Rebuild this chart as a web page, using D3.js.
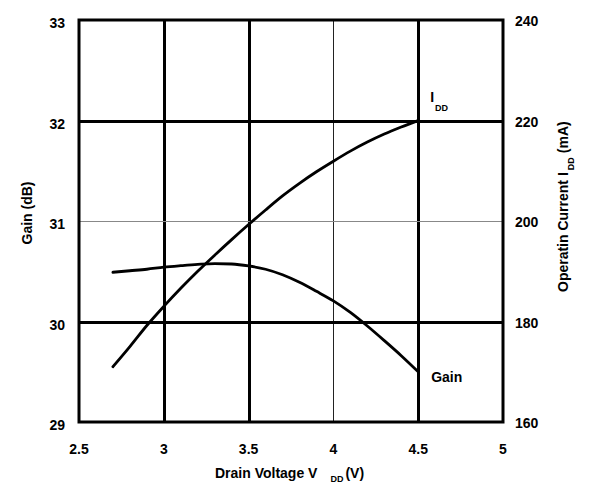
<!DOCTYPE html>
<html>
<head>
<meta charset="utf-8">
<script src="https://cdn.jsdelivr.net/npm/d3@7"></script>
<style>
  body { margin: 0; background: #fff; }
  svg { display: block; font-family: "Liberation Sans", Arial, sans-serif; font-weight: bold; }
</style>
</head>
<body>
<svg width="591" height="486"></svg>
<script>
// data
var voltage   = [2.7, 2.8, 2.9, 3.0, 3.1, 3.2, 3.3, 3.4, 3.5, 3.6, 3.7, 3.8, 3.9, 4.0, 4.1, 4.2, 4.3, 4.4, 4.5];
var gainDb    = [30.49, 30.505, 30.52, 30.54, 30.555, 30.568, 30.576, 30.572, 30.553, 30.52, 30.465, 30.39, 30.30, 30.205, 30.09, 29.955, 29.81, 29.66, 29.50];
var currentMa = [171, 175, 179.2, 183, 186.6, 190, 193.2, 196.3, 199.3, 202.2, 205, 207.5, 209.8, 211.9, 213.9, 215.7, 217.3, 218.7, 220];

var xTicks = [2.5, 3, 3.5, 4, 4.5, 5];
var gainTicks = [29, 30, 31, 32, 33];
var currentTicks = [160, 180, 200, 220, 240];
var thinX = [4];     // grid lines drawn thin
var thinY = [31];

var svg = d3.select("svg"),
    margin = {top: 20, right: 88, bottom: 64, left: 79},
    width = +svg.attr("width") - margin.left - margin.right,
    height = +svg.attr("height") - margin.top - margin.bottom;

var x = d3.scaleLinear().domain([2.5, 5]).range([0, width]),
    yL = d3.scaleLinear().domain([29, 33]).range([height, 0]),
    yR = d3.scaleLinear().domain([160, 240]).range([height, 0]);

var g = svg.append("g")
    .attr("transform", "translate(" + margin.left + "," + margin.top + ")");

// vertical grid
g.selectAll(".vgrid")
    .data(xTicks.slice(1, -1))
  .enter().append("line")
    .attr("x1", d => Math.round(x(d)) + 0.5)
    .attr("x2", d => Math.round(x(d)) + 0.5)
    .attr("y1", 0)
    .attr("y2", height)
    .attr("stroke", d => thinX.includes(d) ? "#222" : "#000")
    .attr("stroke-width", d => thinX.includes(d) ? 1 : 3);

// horizontal grid
g.selectAll(".hgrid")
    .data(gainTicks.slice(1, -1))
  .enter().append("line")
    .attr("x1", 0)
    .attr("x2", width)
    .attr("y1", d => Math.round(yL(d)) + 0.5)
    .attr("y2", d => Math.round(yL(d)) + 0.5)
    .attr("stroke", d => thinY.includes(d) ? "#888" : "#000")
    .attr("stroke-width", d => thinY.includes(d) ? 1 : 3);

// frame
g.append("rect")
    .attr("width", width)
    .attr("height", height)
    .attr("fill", "none")
    .attr("stroke", "#000")
    .attr("stroke-width", 3);

// curves
var gainLine = d3.line()
    .x((d, i) => x(voltage[i]))
    .y(d => yL(d))
    .curve(d3.curveMonotoneX);

var currentLine = d3.line()
    .x((d, i) => x(voltage[i]))
    .y(d => yR(d))
    .curve(d3.curveMonotoneX);

g.append("path")
    .datum(gainDb)
    .attr("d", gainLine)
    .attr("fill", "none")
    .attr("stroke", "#000")
    .attr("stroke-width", 2.8)
    .attr("stroke-linecap", "round");

g.append("path")
    .datum(currentMa)
    .attr("d", currentLine)
    .attr("fill", "none")
    .attr("stroke", "#000")
    .attr("stroke-width", 2.8)
    .attr("stroke-linecap", "round");

// tick labels
var fs = 14;
g.selectAll(".xl")
    .data(xTicks)
  .enter().append("text")
    .attr("x", d => x(d))
    .attr("y", height + 32)
    .attr("text-anchor", "middle")
    .attr("font-size", fs)
    .text(d => d);

g.selectAll(".yl")
    .data(gainTicks)
  .enter().append("text")
    .attr("x", -14)
    .attr("y", d => yL(d) + 8)
    .attr("text-anchor", "end")
    .attr("font-size", fs)
    .text(d => d);

g.selectAll(".yr")
    .data(currentTicks)
  .enter().append("text")
    .attr("x", width + 12)
    .attr("y", d => yR(d) + 6)
    .attr("text-anchor", "start")
    .attr("font-size", fs)
    .text(d => d);

// axis titles
var xt = svg.append("text")
    .attr("x", 215)
    .attr("y", 478)
    .attr("font-size", fs);
xt.append("tspan").text("Drain Voltage V");
xt.append("tspan").attr("dx", 13).attr("dy", 4).attr("font-size", 9).text("DD");
xt.append("tspan").attr("dx", 2).attr("dy", -4).text("(V)");

svg.append("text")
    .attr("transform", "translate(32," + (margin.top + height / 2 - 8) + ") rotate(-90)")
    .attr("text-anchor", "middle")
    .attr("font-size", fs)
    .text("Gain (dB)");

var rt = svg.append("text")
    .attr("transform", "translate(568,292) rotate(-90)")
    .attr("font-size", fs);
rt.append("tspan").text("Operatin Current I");
rt.append("tspan").attr("dx", 2).attr("dy", 6).attr("font-size", 9).text("DD");
rt.append("tspan").attr("dx", 4).attr("dy", -6).text("(mA)");

// series labels
var il = g.append("text")
    .attr("x", x(4.5) + 12)
    .attr("y", yR(220) - 19)
    .attr("font-size", fs);
il.append("tspan").text("I");
il.append("tspan").attr("dx", 1).attr("dy", 9).attr("font-size", 9).text("DD");

g.append("text")
    .attr("x", x(4.5) + 13)
    .attr("y", yL(29.5) + 10)
    .attr("font-size", fs)
    .text("Gain");
</script>
</body>
</html>
